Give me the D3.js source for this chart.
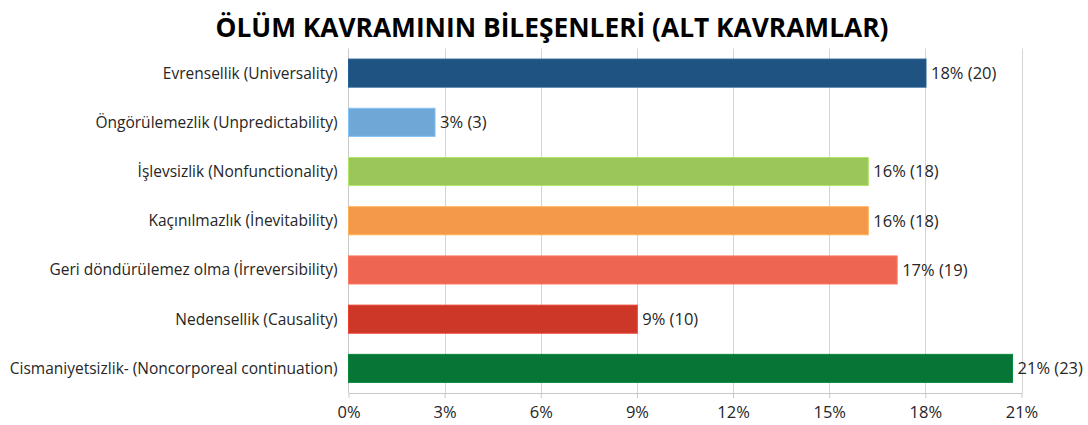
<!DOCTYPE html>
<html><head><meta charset="utf-8">
<script src="https://cdn.jsdelivr.net/npm/d3@7"></script>
<style>
html,body{margin:0;padding:0;background:#fff;}
svg{display:block;}
</style></head>
<body>
<svg id="chart" width="1088" height="425"></svg>
<script>
const title = "ÖLÜM KAVRAMININ BİLEŞENLERİ (ALT KAVRAMLAR)";
const categories = [
  "Evrensellik (Universality)",
  "Öngörülemezlik (Unpredictability)",
  "İşlevsizlik (Nonfunctionality)",
  "Kaçınılmazlık (İnevitability)",
  "Geri döndürülemez olma (İrreversibility)",
  "Nedensellik (Causality)",
  "Cismaniyetsizlik- (Noncorporeal continuation)"
];
const percents = [18.02, 2.70, 16.22, 16.22, 17.12, 9.01, 20.72];
const counts = [20, 3, 18, 18, 19, 10, 23];
const valueLabels = ["18% (20)", "3% (3)", "16% (18)", "16% (18)", "17% (19)", "9% (10)", "21% (23)"];
const colors = ["#1f5381", "#6fa7d7", "#9bc75a", "#f4994a", "#ee6652", "#cd3728", "#077535"];
const tickValues = [0, 3, 6, 9, 12, 15, 18, 21];

const svg = d3.select("#chart");
const margin = {left: 348.5, right: 66.5, top: 48.5, bottom: 32};
const W = 1088, H = 425;
const x = d3.scaleLinear().domain([0, 21]).range([margin.left, W - margin.right]);
const y = d3.scaleBand().domain(categories).range([margin.top, H - margin.bottom]).paddingInner(0.43).paddingOuter(0.215);

const font = "'Open Sans', 'Noto Sans', sans-serif";

svg.append("text")
  .attr("x", 552).attr("y", 37)
  .attr("text-anchor", "middle")
  .style("font-family", font)
  .style("font-weight", "bold")
  .style("font-size", "26px")
  .attr("textLength", 673)
  .attr("lengthAdjust", "spacingAndGlyphs")
  .attr("fill", "#000")
  .text(title);

// gridlines
svg.append("g").selectAll("line").data(tickValues.slice(1)).join("line")
  .attr("x1", d => Math.round(x(d)) + 0.5).attr("x2", d => Math.round(x(d)) + 0.5)
  .attr("y1", margin.top).attr("y2", H - margin.bottom)
  .attr("stroke", "#d4d4d4").attr("stroke-width", 1);

// x axis
const xAxis = d3.axisBottom(x).tickValues(tickValues).tickFormat(d => d + "%").tickSize(5).tickSizeOuter(0);
const gx = svg.append("g").attr("transform", `translate(0,${H - margin.bottom})`).call(xAxis);
gx.select(".domain").attr("stroke", "#c8c8c8");
gx.selectAll(".tick line").attr("stroke", "#c8c8c8");
gx.selectAll(".tick text").attr("dy", 0).attr("y", 25)
  .style("font-family", font).style("font-size", "16.5px").attr("fill", "#262626");

// y axis line
svg.append("line")
  .attr("x1", margin.left).attr("x2", margin.left)
  .attr("y1", margin.top).attr("y2", H - margin.bottom)
  .attr("stroke", "#c8c8c8");

// category labels
svg.append("g").selectAll("text").data(categories).join("text")
  .attr("x", margin.left - 11)
  .attr("y", d => y(d) + y.bandwidth() / 2)
  .attr("dy", "0.35em")
  .attr("text-anchor", "end")
  .style("font-family", font).style("font-size", "15.5px")
  .attr("fill", "#262626")
  .text(d => d);

// bars
svg.append("g").selectAll("rect").data(categories).join("rect")
  .attr("x", x(0))
  .attr("y", (d) => y(d))
  .attr("width", (d, i) => x(percents[i]) - x(0))
  .attr("height", y.bandwidth())
  .attr("fill", (d, i) => colors[i])
  .attr("stroke", (d, i) => d3.color(colors[i]).brighter(0.4))
  .attr("stroke-width", 1);

// value labels
svg.append("g").selectAll("text").data(categories).join("text")
  .attr("x", (d, i) => x(percents[i]) + 5)
  .attr("y", d => y(d) + y.bandwidth() / 2)
  .attr("dy", "0.35em")
  .style("font-family", font).style("font-size", "16.5px")
  .attr("fill", "#262626")
  .text((d, i) => valueLabels[i]);
</script>
</body></html>
